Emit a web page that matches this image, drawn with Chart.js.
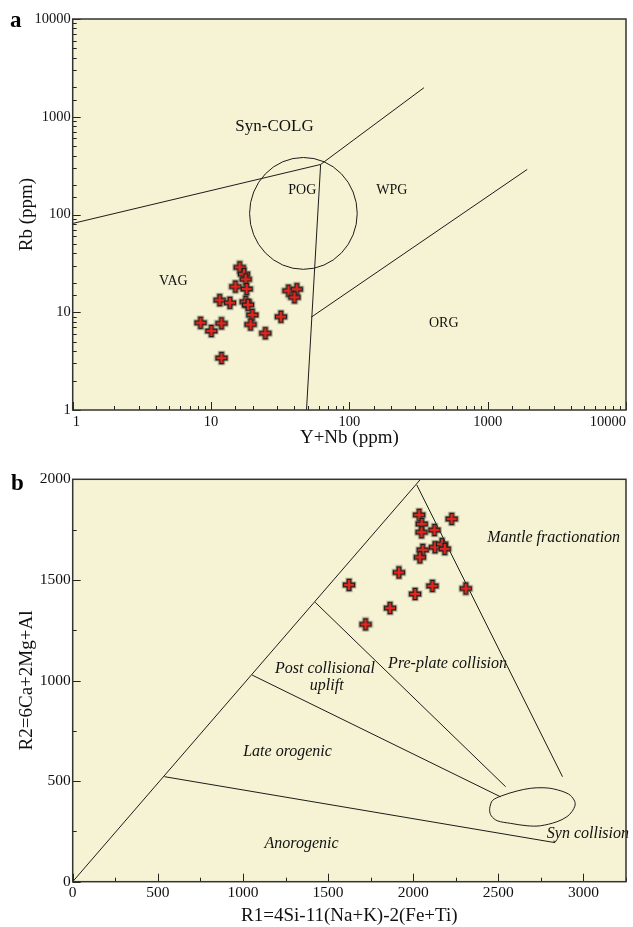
<!DOCTYPE html>
<html>
<head>
<meta charset="utf-8">
<script src="https://cdn.jsdelivr.net/npm/chart.js@4.4.1/dist/chart.umd.min.js"></script>
<style>
html, body { margin: 0; padding: 0; background: #fff; }
#wrap { position: relative; width: 633px; height: 927px; }
.panel { position: absolute; left: 0; width: 633px; }
#pa { top: 0; height: 455px; }
#pb { top: 455px; height: 472px; }
</style>
</head>
<body>
<div id="wrap">
  <div class="panel" id="pa"><canvas id="rb-chart"></canvas></div>
  <div class="panel" id="pb"><canvas id="r1r2-chart"></canvas></div>
</div>
<script>
// panel a : Rb vs Y+Nb (Pearce diagram)
var ynb = [16.1, 17.3, 17.8, 15.0, 18.1, 11.55, 13.7, 17.8, 18.5, 19.9, 8.4, 10.05, 11.9, 19.3, 24.7, 32.0, 36.3, 41.7, 40.1, 11.9];
var rb  = [28.8, 24.6, 21.7, 18.3, 17.3, 13.3, 12.5, 12.8, 11.9, 9.4, 7.8, 6.43, 7.7, 7.5, 6.1, 9.0, 16.6, 17.2, 14.2, 3.4];

// field boundaries (Y+Nb, Rb)
var synVagX = [1, 62],    synVagY = [81, 325];
var synWpgX = [62, 346],  synWpgY = [325, 1980];
var vagOrgX = [62, 49],   vagOrgY = [325, 1];
var wpgOrgX = [53, 1930], wpgOrgY = [8.9, 289];
// POG circle extent
var pogX = [19, 114], pogY = [27.5, 383];

var fieldsA = ['Syn-COLG', 'POG', 'WPG', 'VAG', 'ORG'];
var fieldsAX = [28.8, 45.7, 203, 5.34, 481];
var fieldsAY = [791, 178, 175, 20.9, 7.7];

// panel b : R1-R2 (Batchelor & Bowden)
var r1 = [2035, 2050, 2049, 2125, 2226, 2056, 2039, 2128, 2169, 2185, 1916, 1623, 2113, 2011, 2309, 1864, 1720];
var r2 = [1823, 1778, 1737, 1748, 1803, 1649, 1612, 1662, 1678, 1654, 1537, 1475, 1470, 1430, 1457, 1360, 1279];

var bLines = [
  [[0, 0], [2043, 2000]],
  [[2021, 1972], [2877, 522]],
  [[1424, 1389], [2543, 472]],
  [[1054, 1027], [2513, 422]],
  [[539, 522], [2834, 194]]
];
var synColR1 = [2451, 2465, 2517, 2611, 2688, 2757, 2825, 2912, 2945, 2951, 2932, 2903, 2844, 2747, 2669, 2572, 2494, 2459, 2449, 2451];
var synColR2 = [373, 403, 426, 451, 464, 467, 461, 436, 406, 381, 348, 323, 298, 278, 278, 290, 303, 327, 353, 373];

var fieldsB = ['Mantle fractionation', 'Pre-plate collision', 'Post collisional', 'uplift', 'Late orogenic', 'Anorogenic', 'Syn collision'];
var fieldsBX = [2825, 2202, 1482, 1492, 1262, 1344, 2785];
var fieldsBY = [1707, 1082, 1057, 972, 645, 186, 240];

Chart.defaults.font.family = '"Liberation Serif", "Times New Roman", serif';
Chart.defaults.color = '#111';

function pts(xs, ys) { return xs.map(function (x, i) { return {x: x, y: ys[i]}; }); }

// red cross marker with dark outline
function crossMarker() {
  var c = document.createElement('canvas');
  c.width = 16; c.height = 16;
  var g = c.getContext('2d');
  var h = 5.6, w = 1.9, m = 8;
  g.beginPath();
  g.moveTo(m - w, m - h); g.lineTo(m + w, m - h); g.lineTo(m + w, m - w); g.lineTo(m + h, m - w);
  g.lineTo(m + h, m + w); g.lineTo(m + w, m + w); g.lineTo(m + w, m + h); g.lineTo(m - w, m + h);
  g.lineTo(m - w, m + w); g.lineTo(m - h, m + w); g.lineTo(m - h, m - w); g.lineTo(m - w, m - w);
  g.closePath();
  g.strokeStyle = 'rgba(110,100,80,0.45)'; g.lineWidth = 3.4; g.stroke();
  g.fillStyle = '#e2261c'; g.fill();
  g.strokeStyle = '#1b1b1b'; g.lineWidth = 1.2; g.stroke();
  return c;
}
var marker = crossMarker();

function isPow10(v) {
  var e = Math.round(Math.log10(v));
  return Math.abs(v / Math.pow(10, e) - 1) < 1e-6;
}

function lineSet(xs, ys, extra) {
  var d = {data: pts(xs, ys), showLine: true, pointRadius: 0, borderColor: '#1c1c1c', borderWidth: 1, fill: false};
  return Object.assign(d, extra || {});
}

// background, inside ticks, frame, panel letter
var framePlugin = {
  id: 'frame',
  beforeDraw: function (chart, args, o) {
    var a = chart.chartArea, ctx = chart.ctx;
    ctx.save();
    ctx.fillStyle = '#f5f3d3';
    ctx.fillRect(a.left, a.top, a.right - a.left, a.bottom - a.top);
    ctx.restore();
  },
  afterDraw: function (chart, args, o) {
    var a = chart.chartArea, ctx = chart.ctx, sx = chart.scales.x, sy = chart.scales.y;
    ctx.save();
    ctx.strokeStyle = '#222';
    ctx.lineWidth = 1;
    ctx.beginPath();
    sx.ticks.forEach(function (t) {
      var p = Math.round(sx.getPixelForValue(t.value)) + 0.5;
      var len = o.major(t.value) ? 8 : 4;
      ctx.moveTo(p, a.bottom); ctx.lineTo(p, a.bottom - len);
    });
    sy.ticks.forEach(function (t) {
      var p = Math.round(sy.getPixelForValue(t.value)) + 0.5;
      var len = o.major(t.value) ? 8 : 4;
      ctx.moveTo(a.left, p); ctx.lineTo(a.left + len, p);
    });
    ctx.stroke();
    ctx.strokeStyle = '#333';
    ctx.lineWidth = 1.5;
    ctx.strokeRect(a.left, a.top, a.right - a.left, a.bottom - a.top);
    ctx.fillStyle = '#000';
    ctx.font = 'bold 23px "Liberation Serif"';
    ctx.textBaseline = 'alphabetic';
    ctx.fillText(o.letter, o.lx, o.ly);
    ctx.restore();
  }
};

// field names and POG circle
var fieldPlugin = {
  id: 'fields',
  beforeDatasetsDraw: function (chart, args, o) {
    var ctx = chart.ctx, sx = chart.scales.x, sy = chart.scales.y;
    ctx.save();
    if (o.circle) {
      var x0 = sx.getPixelForValue(o.circle[0][0]), x1 = sx.getPixelForValue(o.circle[0][1]);
      var y0 = sy.getPixelForValue(o.circle[1][0]), y1 = sy.getPixelForValue(o.circle[1][1]);
      ctx.beginPath();
      ctx.ellipse((x0 + x1) / 2, (y0 + y1) / 2, Math.abs(x1 - x0) / 2, Math.abs(y1 - y0) / 2, 0, 0, Math.PI * 2);
      ctx.strokeStyle = '#1c1c1c';
      ctx.lineWidth = 1;
      ctx.stroke();
    }
    ctx.fillStyle = '#111';
    ctx.textBaseline = 'middle';
    o.names.forEach(function (n, i) {
      ctx.font = o.fonts[i];
      ctx.textAlign = o.align ? o.align[i] : 'center';
      ctx.fillText(n, sx.getPixelForValue(o.xs[i]), sy.getPixelForValue(o.ys[i]));
    });
    ctx.restore();
  }
};

new Chart('rb-chart', {
  type: 'scatter',
  data: {
    datasets: [
      {data: pts(ynb, rb), pointStyle: marker, pointRadius: 6},
      lineSet(synVagX, synVagY),
      lineSet(synWpgX, synWpgY),
      lineSet(vagOrgX, vagOrgY),
      lineSet(wpgOrgX, wpgOrgY)
    ]
  },
  options: {
    responsive: true,
    maintainAspectRatio: false,
    animation: false,
    layout: {padding: {left: 0, right: 4, top: 19, bottom: 0}},
    plugins: {
      legend: {display: false},
      tooltip: {enabled: false},
      frame: {letter: 'a', lx: 10, ly: 27, major: isPow10},
      fields: {
        names: fieldsA, xs: fieldsAX, ys: fieldsAY,
        fonts: ['17px "Liberation Serif"', '14px "Liberation Serif"', '14px "Liberation Serif"', '14px "Liberation Serif"', '14px "Liberation Serif"'],
        circle: [pogX, pogY]
      }
    },
    scales: {
      x: {
        type: 'logarithmic', min: 1, max: 10000,
        grid: {display: false, drawTicks: false},
        border: {display: false},
        ticks: {
          autoSkip: false, maxRotation: 0, padding: 3, align: 'inner',
          font: {size: 14.5},
          callback: function (v) { return isPow10(v) ? String(v) : ''; }
        },
        title: {display: true, text: 'Y+Nb (ppm)', font: {size: 19, lineHeight: 1}, padding: {top: 0, bottom: 7.5}},
        afterFit: function (s) { s.height = 45; s.paddingLeft = 0; s.paddingRight = 0; }
      },
      y: {
        type: 'logarithmic', min: 1, max: 10000,
        grid: {display: false, drawTicks: false},
        border: {display: false},
        ticks: {
          autoSkip: false, padding: 2,
          font: {size: 14.5},
          callback: function (v) { return isPow10(v) ? String(v) : ''; }
        },
        title: {display: true, text: 'Rb (ppm)', font: {size: 19, lineHeight: 1}, padding: {top: 17.5, bottom: 0}},
        afterFit: function (s) { s.width = 72.7; s.paddingTop = 0; s.paddingBottom = 0; }
      }
    }
  },
  plugins: [framePlugin, fieldPlugin]
});

var bSets = [{data: pts(r1, r2), pointStyle: marker, pointRadius: 6}];
bLines.forEach(function (l) {
  bSets.push(lineSet([l[0][0], l[1][0]], [l[0][1], l[1][1]]));
});
bSets.push(lineSet(synColR1, synColR2, {tension: 0.35}));

var it = '16px "Liberation Serif"';
new Chart('r1r2-chart', {
  type: 'scatter',
  data: {datasets: bSets},
  options: {
    responsive: true,
    maintainAspectRatio: false,
    animation: false,
    layout: {padding: {left: 0, right: 4, top: 24.3, bottom: 0}},
    plugins: {
      legend: {display: false},
      tooltip: {enabled: false},
      frame: {letter: 'b', lx: 11, ly: 35, major: function (v) { return v % 500 === 0; }},
      fields: {
        names: fieldsB, xs: fieldsBX, ys: fieldsBY,
        fonts: fieldsB.map(function () { return 'italic ' + it; }),
        align: ['center', 'center', 'center', 'center', 'center', 'center', 'left']
      }
    },
    scales: {
      x: {
        type: 'linear', min: 0, max: 3250,
        grid: {display: false, drawTicks: false},
        border: {display: false},
        ticks: {
          stepSize: 250, autoSkip: false, maxRotation: 0, padding: 2,
          font: {size: 15.5},
          callback: function (v) { return v % 500 === 0 ? String(v) : ''; }
        },
        title: {display: true, text: 'R1=4Si-11(Na+K)-2(Fe+Ti)', font: {size: 19, lineHeight: 1}, padding: {top: 0, bottom: 1}},
        afterFit: function (s) { s.height = 45.3; s.paddingLeft = 0; s.paddingRight = 0; }
      },
      y: {
        type: 'linear', min: 0, max: 2000,
        grid: {display: false, drawTicks: false},
        border: {display: false},
        ticks: {
          stepSize: 250, autoSkip: false, padding: 2,
          font: {size: 15.5},
          callback: function (v) { return v % 500 === 0 ? String(v) : ''; }
        },
        title: {display: true, text: 'R2=6Ca+2Mg+Al', font: {size: 19, lineHeight: 1}, padding: {top: 17.5, bottom: 0}},
        afterFit: function (s) { s.width = 72.7; s.paddingTop = 0; s.paddingBottom = 0; }
      }
    }
  },
  plugins: [framePlugin, fieldPlugin]
});
</script>
</body>
</html>
